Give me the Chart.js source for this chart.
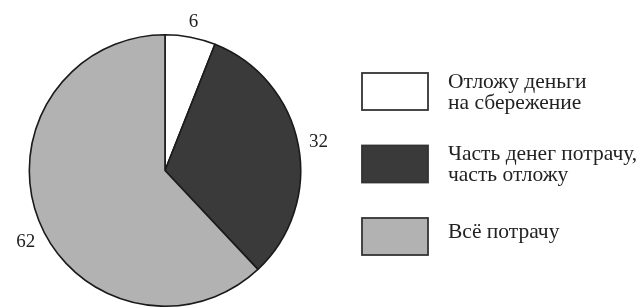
<!DOCTYPE html>
<html><head><meta charset="utf-8">
<script src="https://cdn.jsdelivr.net/npm/chart.js@4/dist/chart.umd.min.js"></script>
<style>html,body{margin:0;padding:0;background:#fff}#wrap{width:643px;height:307px;position:relative}</style>
</head><body><div id="wrap"><canvas id="c" width="643" height="307"></canvas></div>
<script>
const categories = [
  ["Отложу деньги", "на сбережение"],
  ["Часть денег потрачу,", "часть отложу"],
  ["Всё потрачу"]
];
const values = [6, 32, 62];
const valueLabels = ["6", "32", "62"];
const colors = ["#ffffff", "#3a3a3a", "#b2b2b2"];

const FONT = '"Liberation Serif", "Times New Roman", serif';

const outsideLabels = {
  id: 'outsideLabels',
  afterDatasetsDraw(chart, args, opts) {
    const ctx = chart.ctx;
    const meta = chart.getDatasetMeta(0);
    ctx.save();
    ctx.font = '19px ' + FONT;
    ctx.fillStyle = '#222';
    ctx.textAlign = 'center';
    ctx.textBaseline = 'middle';
    meta.data.forEach((arc, i) => {
      const p = arc.getProps(['x','y','startAngle','endAngle','outerRadius'], true);
      const a = (p.startAngle + p.endAngle) / 2 + (opts.angleShift[i] || 0) * Math.PI / 180;
      const r = p.outerRadius + opts.offset[i];
      ctx.fillText(valueLabels[i], p.x + Math.cos(a) * r, p.y + Math.sin(a) * r + 1);
    });
    ctx.restore();
  }
};

const sideLegend = {
  id: 'sideLegend',
  afterDraw(chart, args, opts) {
    const ctx = chart.ctx;
    ctx.save();
    categories.forEach((lines, i) => {
      const y0 = opts.top + i * opts.step;
      ctx.fillStyle = colors[i];
      ctx.fillRect(opts.left, y0, opts.boxW, opts.boxH);
      ctx.lineWidth = 1.8;
      ctx.strokeStyle = '#333';
      ctx.strokeRect(opts.left, y0, opts.boxW, opts.boxH);
      ctx.fillStyle = '#222';
      ctx.font = '21.5px ' + FONT;
      ctx.textAlign = 'left';
      ctx.textBaseline = 'alphabetic';
      const first = lines.length > 1 ? 14.5 : 20;
      lines.forEach((t, j) => {
        ctx.fillText(t, opts.textX, y0 + first + j * 21);
      });
    });
    ctx.restore();
  }
};

new Chart(document.getElementById('c'), {
  type: 'pie',
  data: {
    labels: categories.map(l => l.join(' ')),
    datasets: [{
      data: values,
      backgroundColor: colors,
      borderColor: '#1a1a1a',
      borderWidth: 1.6
    }]
  },
  options: {
    responsive: false,
    animation: false,
    layout: { padding: { left: 28, right: 341, top: 34, bottom: 0 } },
    plugins: {
      legend: { display: false },
      tooltip: { enabled: false },
      outsideLabels: { offset: [16.5, 20.5, 20.5], angleShift: [0, 0, -5.3] },
      sideLegend: { left: 362, top: 73, step: 72.5, boxW: 66, boxH: 37, textX: 448 }
    }
  },
  plugins: [outsideLabels, sideLegend]
});
</script></body></html>
